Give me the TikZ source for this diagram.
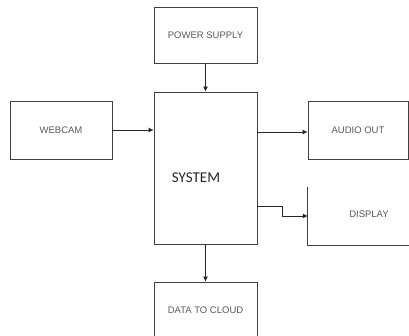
\documentclass[tikz,border=0pt]{standalone}
\usepackage{fontspec}
\setmainfont{Liberation Sans}
\newfontfamily\sysfont{Carlito}
\usetikzlibrary{arrows.meta}
\begin{document}
\begin{tikzpicture}[x=1pt,y=-1pt,
  box/.style={draw=black!75, line width=0.8pt, minimum width=103pt, inner sep=0pt},
  lbl/.style={font=\fontsize{9.5}{11}\selectfont, text=black!65},
  arr/.style={draw=black!85, line width=0.8pt, -{Latex[length=5pt,width=5pt]}}]
\useasboundingbox (0,0) rectangle (409,336);
\clip (0,0) rectangle (409,336);
\fill[white] (0,0) rectangle (409,336);
\node[box, minimum width=103pt, minimum height=56pt, lbl] (ps) at (205.5,35) {POWER SUPPLY};
\node[box, minimum width=103pt, minimum height=152pt] (sys) at (205.5,168) {};
\node[font=\sysfont\fontsize{15}{17}\selectfont, text=black!85] (syslbl) at (196,178) {SYSTEM};
\node[box, minimum width=102pt, minimum height=58pt, lbl] (web) at (61,130) {WEBCAM};
\node[box, minimum width=100pt, minimum height=58pt, lbl] (aud) at (358,130) {AUDIO OUT};
\node[minimum width=120pt, minimum height=58pt, inner sep=0pt, lbl] (disp) at (368,216) {};
\node[lbl] (displbl) at (369,214) {DISPLAY};
\draw[black!75, line width=0.8pt] (disp.north west) -- (disp.south west) -- (disp.south east);
\node[box, minimum width=103pt, minimum height=56pt, lbl] (dtc) at (205.5,310) {DATA TO CLOUD};
\draw[arr] (ps.south) -- (sys.north);
\draw[arr] (web.east) -- (web.east -| sys.west);
\draw[arr] (sys.east |- 0,132) -- (aud.west |- 0,132);
\coordinate (dsrc) at ([yshift=-38pt]sys.east);
\draw[arr] (dsrc) -- ++(25,0) |- (disp.west);
\draw[arr] (sys.south) -- (dtc.north);
\end{tikzpicture}
\end{document}
